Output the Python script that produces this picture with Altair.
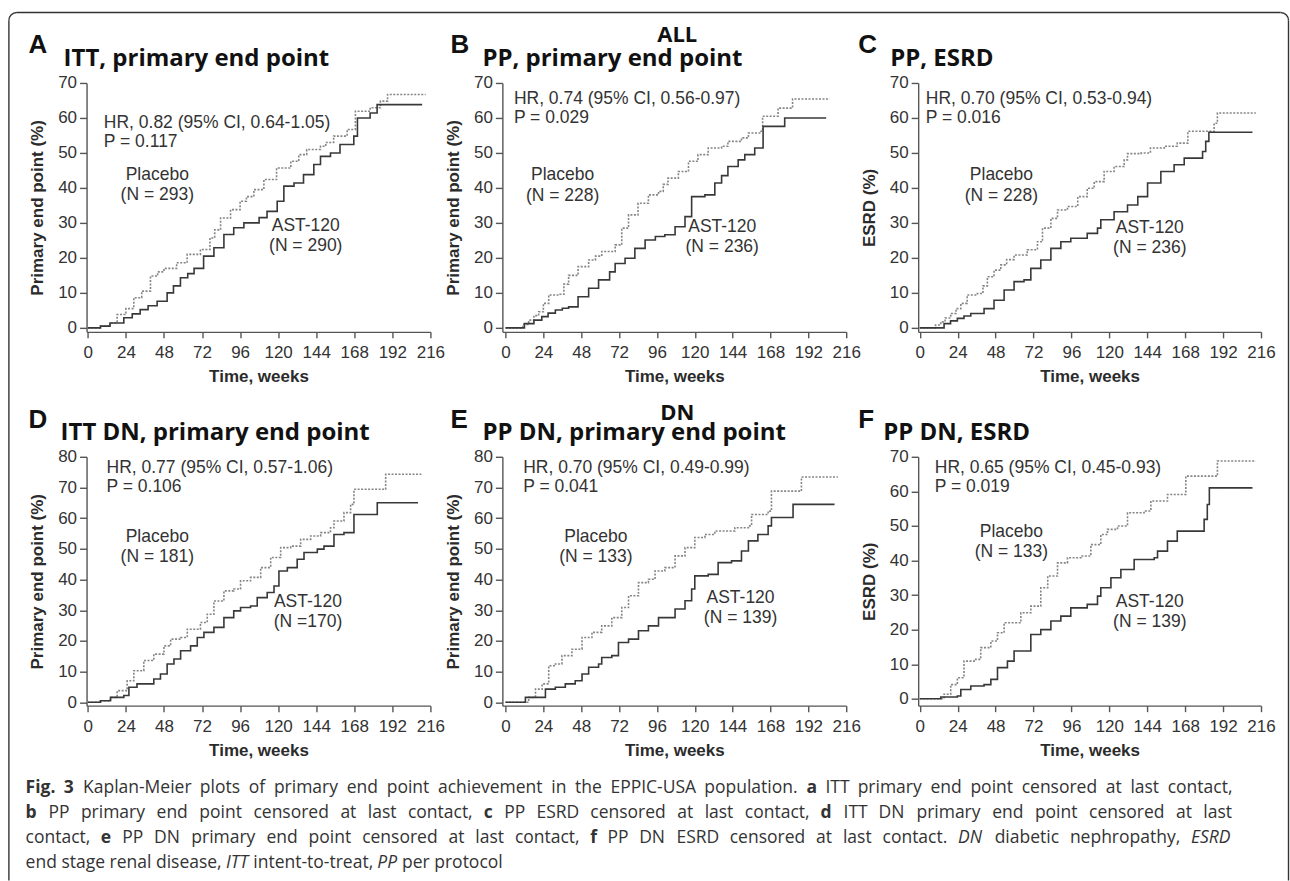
import altair as alt
import pandas as pd

# ---------------- data ----------------
WEEK_TICKS = [0, 24, 48, 72, 96, 120, 144, 168, 192, 216]
ARMS = ["Placebo", "AST-120"]

A_pla_t = [0, 8, 14, 18.5, 24, 29, 34, 39.5, 44, 48, 56, 62.6, 71, 77, 80, 83.7, 90, 96, 100, 104.7, 111, 119, 128, 133, 138, 146.7, 150, 155, 163.5, 168.7, 178, 184.5, 189, 213]
A_pla_v = [0, 0.5, 1.4, 3.8, 5.5, 8.6, 10.5, 14.8, 16, 17, 18.6, 21, 22.4, 25.7, 28, 31.4, 33.8, 36.2, 37.5, 39.5, 42.4, 45.7, 47.6, 49.5, 51, 51.9, 53, 54.8, 56.7, 61.9, 62.9, 64.8, 66.7, 66.7]
A_ast_t = [0, 8, 14, 22.7, 28, 33, 38, 43.7, 50, 54, 58.4, 63, 67, 73, 79.5, 85.8, 92, 98.4, 108, 113, 119.4, 123.6, 130, 136, 142.5, 146.7, 153, 159, 167.7, 170, 178, 182.4, 210.8]
A_ast_v = [0, 0.5, 1.4, 2.9, 4, 5.2, 6.3, 7.6, 10, 12, 14.3, 15.5, 17, 20.5, 22.9, 26.7, 28.6, 30, 31.5, 33.3, 36.2, 40.5, 41.4, 43.8, 46.7, 49, 50, 52.4, 54.8, 60, 61.4, 63.8, 63.8]

B_pla_t = [0, 8.4, 11, 14.7, 18, 21, 24, 27.4, 33.7, 37, 40, 46, 52.7, 57, 61, 69.5, 73.7, 78, 84, 90.6, 97, 100, 103, 109.6, 116, 122, 128.5, 137, 141, 149.6, 154, 162, 163, 172.8, 182, 205.5]
B_pla_v = [0, 0, 1, 2.2, 3.5, 4.6, 7, 9.4, 9.6, 12.5, 15, 17.5, 19.4, 20.5, 21.8, 23.7, 28.5, 32.3, 35.6, 38, 39, 41, 42.8, 44.7, 47.6, 49.5, 51.4, 51.9, 53.3, 54.3, 55.7, 56.2, 60.5, 62.8, 65.4, 65.4]
B_ast_t = [0, 8.4, 12, 18, 23, 27, 31.6, 36, 40, 46, 52.7, 59, 66, 69.5, 75.8, 82, 88.5, 95, 101, 107.5, 113.8, 118, 126.4, 132.7, 137, 141, 147.5, 151.7, 158, 163.3, 177, 203.3]
B_ast_v = [0, 0, 1.2, 2.2, 3.2, 4.2, 5.1, 5.6, 6, 8.9, 11.3, 13.7, 16, 18.4, 19.9, 22.7, 25.1, 26.1, 26.6, 28.9, 31.8, 37.5, 38, 41.4, 43.5, 46.1, 48, 49.5, 51.4, 57.6, 60, 60]

C_pla_t = [0, 7, 10, 13.3, 16, 19.6, 23, 26, 30, 36.5, 40, 42.8, 47, 51.3, 55, 59.7, 68, 74.5, 77.7, 83, 87.2, 93.5, 100, 106, 110.4, 116.7, 123, 129.4, 131.5, 140, 146, 154.8, 163, 169.7, 186.3, 188.4, 212.7]
C_pla_v = [0, 0, 0.8, 1.7, 2.8, 4.1, 5.5, 7, 9.4, 9.8, 12, 14.6, 16.5, 18, 19.5, 20.8, 22.3, 24.6, 28.5, 31.3, 33.7, 34.7, 37.5, 39.9, 41.8, 44.7, 46.1, 48, 49.8, 50, 51.4, 51.9, 52.8, 56.2, 58.5, 61.4, 61.4]
C_ast_t = [0, 11, 15.4, 19.5, 23.8, 28, 32.3, 40.7, 47, 53.4, 59.7, 66, 70.3, 76.6, 83, 89.3, 95.6, 106, 112.5, 114.6, 123, 131.5, 138, 144.2, 152.6, 161, 167.4, 179, 181, 183, 210.6]
C_ast_v = [0, 0, 1.2, 2, 2.7, 3.4, 4.1, 5.5, 7.9, 10.8, 13.2, 13.7, 17, 19.4, 22.7, 24.6, 25.6, 27, 28.5, 30.9, 33.2, 35.1, 37.5, 41.4, 44.7, 46.6, 48.5, 50.4, 53.3, 55.9, 55.9]

D_pla_t = [0, 8, 14.3, 18.5, 24.8, 29, 35.3, 41.6, 48, 52.2, 58.5, 62.7, 71, 75.3, 79.5, 85.8, 92, 96.3, 102.6, 109, 115.3, 121.6, 127.9, 134.2, 140.5, 146.8, 153, 155.2, 161.5, 165.7, 167.8, 187.8, 210.3]
D_pla_v = [0, 0.5, 1.6, 3.8, 7, 10.3, 13.6, 15.7, 18.4, 20.6, 21.1, 23.8, 26, 28.7, 33, 36.3, 36.9, 39.6, 40.7, 43.9, 47.2, 50.4, 50.9, 53.1, 54.2, 55.3, 56.9, 59.1, 61.8, 64.5, 69.4, 74.3, 74.3]
D_ast_t = [0, 8, 14.3, 22.7, 25.9, 31, 41.6, 45.8, 50, 54.3, 58.5, 64.8, 69, 73.2, 79.5, 85.8, 92, 96.3, 102.6, 106.8, 113.1, 117.4, 120.5, 125.8, 132, 136.3, 144.7, 148.9, 155.2, 161.5, 167.8, 182.5, 208.2]
D_ast_v = [0, 0.5, 1.6, 2.2, 4.9, 6, 7.6, 9.2, 12.5, 14.1, 16.8, 18.4, 21.1, 22.8, 24.4, 27.6, 29.8, 30.9, 31.4, 34.1, 35.8, 37.9, 42.8, 43.9, 46.6, 48.8, 49.9, 50.9, 54.7, 55.3, 61.2, 65, 65]

E_pla_t = [0, 10.5, 14.7, 19, 23.2, 27.4, 31.6, 35.8, 42.1, 48.5, 54.8, 61, 67.4, 73.7, 78, 84.3, 90.6, 94.8, 101, 107.5, 113.8, 120, 126.4, 132.7, 145.4, 154, 156, 166.5, 168.6, 187.6, 210.7]
E_pla_v = [0, 0, 1.6, 4.3, 6, 11.9, 12.5, 15.2, 17.3, 21.1, 22.8, 24.9, 27.6, 30.9, 34.7, 39, 40.1, 42.8, 43.9, 47.7, 50.4, 53.7, 54.7, 55.8, 56.9, 57.5, 61.2, 62.3, 68.8, 73.4, 73.4]
E_ast_t = [0, 10.5, 12.6, 25.3, 31.6, 37.9, 44.2, 48.5, 52.7, 59, 61, 67.4, 71.6, 78, 84.3, 90.6, 97, 107.5, 113.8, 118, 120, 128.5, 134.8, 143.3, 149.6, 154, 160, 166.5, 168.6, 182.3, 208.6]
E_ast_v = [0, 0, 1.6, 4.3, 4.9, 6, 7, 9.2, 11.4, 12.5, 14.6, 15.2, 19.5, 20.6, 23.3, 24.9, 27.6, 30.4, 33.1, 36.9, 41.2, 41.7, 45.5, 46.1, 49.3, 52.6, 54.7, 57.5, 60.2, 64.5, 64.5]

F_pla_t = [0, 11.2, 15.4, 19.6, 23.8, 28, 34.4, 38.6, 45, 49.2, 53.4, 64, 70.3, 76.6, 81, 87.2, 93.5, 102, 108.3, 114.6, 118.8, 125.2, 131.5, 142, 146.3, 156.8, 168.4, 188.4, 212.7]
F_pla_v = [0, 0, 1.3, 4.1, 6.1, 10.9, 11.4, 14.8, 16.7, 19.1, 22, 24.9, 26.8, 32.1, 35.5, 39.3, 40.8, 41.3, 44.6, 47.5, 49, 50, 53.8, 54.3, 57.2, 59.1, 64.4, 68.8, 68.8]
F_ast_t = [0, 11.2, 13.3, 23.8, 26, 32.3, 40.7, 45, 49.2, 55.5, 59.7, 70.3, 76.6, 83, 89.3, 95.6, 106, 112.5, 114.6, 121, 127.3, 135.7, 148.4, 150.5, 156.8, 163, 180, 182, 183.3, 210.6]
F_ast_v = [0, 0, 0.5, 0.8, 2.7, 3.7, 4.1, 5.6, 9, 10.9, 13.8, 18.6, 20, 22.5, 23.9, 26.3, 27.3, 29.7, 32.1, 35, 37.4, 40.3, 40.8, 42.7, 45.6, 48.5, 51.9, 56.2, 61, 61]

PANEL_LETTERS = ["A", "B", "C", "D", "E", "F"]
PANEL_TITLES = ["ITT, primary  end point", "PP, primary  end point", "PP, ESRD",
                "ITT DN, primary  end point", "PP DN, primary  end point", "PP DN, ESRD"]
Y_TITLES = ["Primary end point (%)", "Primary end point (%)", "ESRD (%)",
            "Primary end point (%)", "Primary end point (%)", "ESRD (%)"]
Y_MAX = [70, 70, 70, 80, 80, 70]
HR_TEXT = ["HR, 0.82 (95% CI, 0.64-1.05)", "HR, 0.74 (95% CI, 0.56-0.97)", "HR, 0.70 (95% CI, 0.53-0.94)",
           "HR, 0.77 (95% CI, 0.57-1.06)", "HR, 0.70 (95% CI, 0.49-0.99)", "HR, 0.65 (95% CI, 0.45-0.93)"]
P_TEXT = ["P = 0.117", "P = 0.029", "P = 0.016", "P = 0.106", "P = 0.041", "P = 0.019"]
N_PLACEBO = ["(N = 293)", "(N = 228)", "(N = 228)", "(N = 181)", "(N = 133)", "(N = 133)"]
N_AST = ["(N = 290)", "(N = 236)", "(N = 236)", "(N =170)", "(N = 139)", "(N = 139)"]
GROUP_HEADERS = {1: "ALL", 4: "DN"}

CAPTION_LINES = [
    [("Fig. 3", "b"), ("Kaplan-Meier plots of primary end point achievement in the EPPIC-USA population.", "n"),
     ("a", "b"), ("ITT primary end point censored at last contact,", "n")],
    [("b", "b"), ("PP primary end point censored at last contact,", "n"), ("c", "b"),
     ("PP ESRD censored at last contact,", "n"), ("d", "b"), ("ITT DN primary end point censored at last", "n")],
    [("contact,", "n"), ("e", "b"), ("PP DN primary end point censored at last contact,", "n"), ("f", "b"),
     ("PP DN ESRD censored at last contact.", "n"), ("DN", "i"), ("diabetic nephropathy,", "n"), ("ESRD", "i")],
    [("end stage renal disease,", "n"), ("ITT", "i"), ("intent-to-treat,", "n"), ("PP", "i"), ("per protocol", "n")],
]

CURVES = [(A_pla_t, A_pla_v, A_ast_t, A_ast_v), (B_pla_t, B_pla_v, B_ast_t, B_ast_v),
          (C_pla_t, C_pla_v, C_ast_t, C_ast_v), (D_pla_t, D_pla_v, D_ast_t, D_ast_v),
          (E_pla_t, E_pla_v, E_ast_t, E_ast_v), (F_pla_t, F_pla_v, F_ast_t, F_ast_v)]

# annotation anchors in data units (weeks, %)
HR_POS = [(10.1, 58.6, 53.1), (5.3, 65.5, 60.0), (3.8, 65.5, 60.0), (11.8, 76.4, 70.1), (11.2, 76.4, 70.1), (9.5, 66.8, 61.2)]
PLA_POS = [(43.8, 43.6, 37.9), (36.2, 43.6, 37.8), (51.7, 43.6, 37.8), (43.8, 54.0, 47.5), (57.3, 54.0, 47.5), (58.0, 48.3, 42.5)]
AST_POS = [(137.4, 29.0, 23.3), (137.4, 28.9, 23.2), (145.6, 28.5, 22.7), (138.8, 32.8, 26.3), (149.0, 34.1, 27.6), (145.6, 28.1, 22.3)]

# ---------------- layout / style ----------------
COL_W = [344, 344, 343]
COL_X0 = [-0.8, -2.0, -1.0]
H = 249
Y_MIN = [-1.15, -1.15, -1.15, -1.1, -1.1, -2.0]
COL_PAGE_X = [86, 502, 918]
ROW_PAGE_Y = [82, 456]
LETTER_X = [28, 450, 858, 28, 450, 858]
TITLE_X = [63, 482, 890, 60, 482, 883]
INK = "#2b2b2b"
AX = "#555555"
SANS = "Liberation Sans"

# Open Sans advance widths (em)
OS_W = {" ": .26, "a": .556, "b": .613, "c": .476, "d": .613, "e": .561, "f": .339, "g": .548, "h": .614,
        "i": .253, "j": .253, "k": .524, "l": .253, "m": .930, "n": .614, "o": .604, "p": .613, "q": .613,
        "r": .408, "s": .477, "t": .353, "u": .614, "v": .501, "w": .778, "x": .524, "y": .502, "z": .477,
        "A": .633, "B": .648, "C": .631, "D": .729, "E": .546, "F": .504, "G": .729, "I": .267, "K": .596,
        "M": .892, "N": .781, "P": .596, "R": .607, "S": .539, "T": .538, "U": .740, ".": .266, ",": .245,
        "-": .322, "3": .572}
CAP_SIZE = 17.5
CAP_X0, CAP_X1 = 25, 1232
CAP_Y = [787, 812, 837, 862]


def word_w(word, style):
    f = 1.07 if style == "b" else (0.97 if style == "i" else 1.0)
    return sum(OS_W.get(ch, 0.55) for ch in word) * CAP_SIZE * f


def txt(s, x, y, size, font=SANS, weight="normal", style="normal", align="left", color=INK):
    return alt.Chart(alt.Data(values=[{}])).mark_text(
        text=s, align=align, baseline="middle", fontSize=size, font=font,
        fontWeight=weight, fontStyle=style, color=color
    ).encode(x=alt.value(x), y=alt.value(y))


def panel(i):
    col, row = i % 3, i // 3
    W = COL_W[col]
    x0 = COL_X0[col]
    ox, oy = COL_PAGE_X[col], ROW_PAGE_Y[row]

    def px(w):
        return (w - x0) / (216 - x0) * W

    def py(v):
        return (Y_MAX[i] - v) / (Y_MAX[i] - Y_MIN[i]) * H

    pt, pv, at, av = CURVES[i]
    df = pd.concat([
        pd.DataFrame({"week": pt, "pct": pv, "arm": "Placebo"}),
        pd.DataFrame({"week": at, "pct": av, "arm": "AST-120"}),
    ])
    xaxis = alt.Axis(values=WEEK_TICKS, title="Time, weeks", grid=False, labelFlush=False, labelOverlap=False,
                     labelFont=SANS, labelFontSize=17, labelColor="#333", titleFont=SANS, titleFontSize=17,
                     titleFontWeight="bold", titleColor=INK, domainColor=AX, domainWidth=1.4, tickColor=AX,
                     tickWidth=1.4, tickSize=6, labelPadding=7, titlePadding=8)
    yaxis = alt.Axis(values=list(range(0, Y_MAX[i] + 1, 10)), title=Y_TITLES[i], grid=False, labelOverlap=False,
                     labelFont=SANS, labelFontSize=17, labelColor="#333", titleFont=SANS, titleFontSize=17,
                     titleFontWeight="bold", titleColor=INK, domainColor=AX, domainWidth=1.4, tickColor=AX,
                     tickWidth=1.4, tickSize=7, labelPadding=3, titlePadding=11)
    lines = alt.Chart(df).mark_line(interpolate="step-after", strokeWidth=1.6).encode(
        x=alt.X("week:Q", scale=alt.Scale(domain=[x0, 216], nice=False, zero=False), axis=xaxis),
        y=alt.Y("pct:Q", scale=alt.Scale(domain=[Y_MIN[i], Y_MAX[i]], nice=False, zero=False), axis=yaxis),
        color=alt.Color("arm:N", scale=alt.Scale(domain=ARMS, range=["#858585", "#383838"]), legend=None),
        strokeDash=alt.StrokeDash("arm:N", scale=alt.Scale(domain=ARMS, range=[[2, 1.5], [1, 0]]), legend=None),
    )
    layers = [lines]
    fs = 17.5
    hx, hy, py2 = HR_POS[i]
    layers.append(txt(HR_TEXT[i], px(hx), py(hy), fs, color="#333"))
    layers.append(txt(P_TEXT[i], px(hx), py(py2), fs, color="#333"))
    lx, ly1, ly2 = PLA_POS[i]
    layers.append(txt("Placebo", px(lx), py(ly1), fs, align="center", color="#333"))
    layers.append(txt(N_PLACEBO[i], px(lx), py(ly2), fs, align="center", color="#333"))
    ax_, ay1, ay2 = AST_POS[i]
    layers.append(txt("AST-120", px(ax_), py(ay1), fs, align="center", color="#333"))
    layers.append(txt(N_AST[i], px(ax_), py(ay2), fs, align="center", color="#333"))

    # panel letter and title
    ly = (44 if row == 0 else 419) - oy
    ty = (58 if row == 0 else 432) - oy
    layers.append(txt(PANEL_LETTERS[i], LETTER_X[i] - ox, ly, 26, weight="bold", color="#111"))
    layers.append(txt(PANEL_TITLES[i], TITLE_X[i] - ox, ty, 24, font="Open Sans", weight="bold", color="#111"))
    if i in GROUP_HEADERS:
        gy = (34 if row == 0 else 412) - oy
        layers.append(txt(GROUP_HEADERS[i], 677 - ox, gy, 22, font="Open Sans", weight="bold",
                          align="center", color="#111"))

    if i == 0:
        # outer rounded frame
        fc = "#333333"
        L, T, R, B = 8.3 - ox, 11.5 - oy, 1288.5 - ox, 880 - oy
        r = 8
        layers.append(alt.Chart(alt.Data(values=[{}])).mark_rule(color=fc, strokeWidth=1.4).encode(
            x=alt.value(L), y=alt.value(T + r), y2=alt.value(B)))
        layers.append(alt.Chart(alt.Data(values=[{}])).mark_rule(color=fc, strokeWidth=1.4).encode(
            x=alt.value(R), y=alt.value(T + r), y2=alt.value(B)))
        layers.append(alt.Chart(alt.Data(values=[{}])).mark_rule(color=fc, strokeWidth=1.4).encode(
            x=alt.value(L + r), x2=alt.value(R - r), y=alt.value(T)))
        layers.append(alt.Chart(alt.Data(values=[{}])).mark_arc(
            radius=r + 0.7, radius2=r - 0.7, theta=4.712389, theta2=6.283185, color=fc).encode(
            x=alt.value(L + r), y=alt.value(T + r)))
        layers.append(alt.Chart(alt.Data(values=[{}])).mark_arc(
            radius=r + 0.7, radius2=r - 0.7, theta=0, theta2=1.570796, color=fc).encode(
            x=alt.value(R - r), y=alt.value(T + r)))
        # caption, justified word by word
        for li, runs in enumerate(CAPTION_LINES):
            words = []
            for s, st in runs:
                for w in s.split(" "):
                    words.append((w, st))
            widths = [word_w(w, st) for w, st in words]
            gap = OS_W[" "] * CAP_SIZE
            if li < 3:
                gap = (CAP_X1 - CAP_X0 - sum(widths)) / (len(words) - 1)
            xcur = CAP_X0
            for (w, st), ww in zip(words, widths):
                layers.append(txt(w, xcur - ox, CAP_Y[li] - oy, CAP_SIZE, font="Open Sans",
                                  weight="bold" if st == "b" else "normal",
                                  style="italic" if st == "i" else "normal", color="#333"))
                xcur += ww + gap
    return alt.layer(*layers).properties(width=W, height=H)


chart = alt.concat(*[panel(i) for i in range(6)], columns=3,
                   spacing={"row": 125, "column": 72}, bounds="flush").properties(
    padding={"left": 7.6, "top": 10.8, "right": 0, "bottom": 0},
    background="white",
).configure_view(stroke=None)

chart.save("out.html", embed_options={"renderer": "svg", "actions": False})
